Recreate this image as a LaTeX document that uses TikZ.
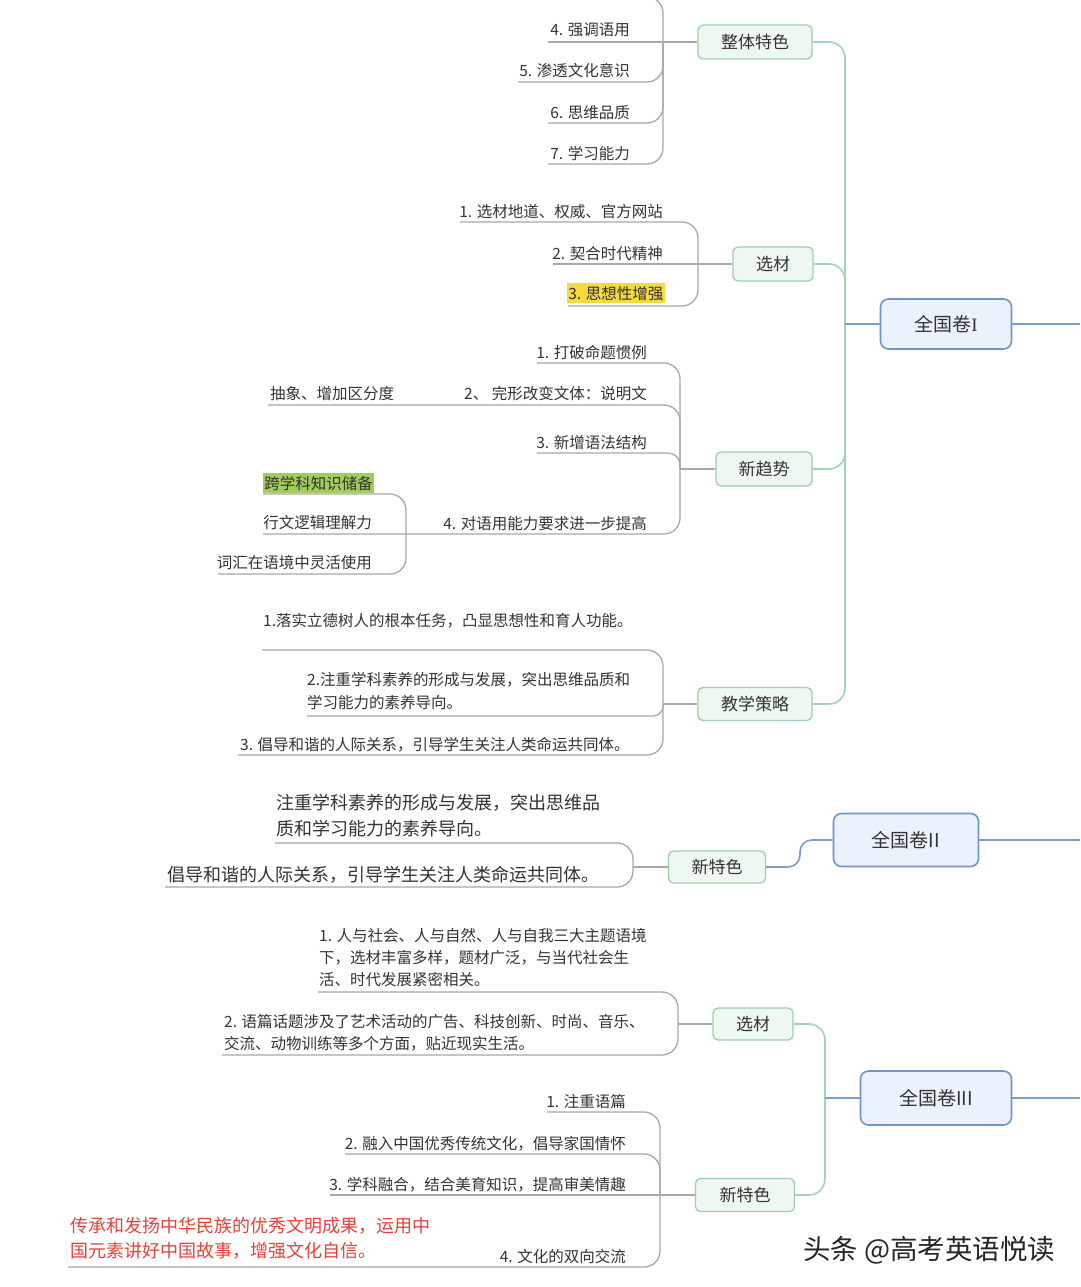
\documentclass[tikz,border=0pt]{standalone}
\usepackage{fontspec}
\setmainfont{Noto Sans CJK SC}
\newfontfamily\serifI{Liberation Serif}
\definecolor{txt}{HTML}{333333}
\definecolor{lgray}{HTML}{A8A8A8}
\definecolor{lgreen}{HTML}{A3D4B3}
\definecolor{lblue}{HTML}{7C9DC8}
\definecolor{boxg}{HTML}{9CCFAE}
\definecolor{fillg}{HTML}{EEF8F1}
\definecolor{boxb}{HTML}{6F96C6}
\definecolor{fillb}{HTML}{EAF2FB}
\definecolor{hly}{HTML}{F6DA3C}
\definecolor{hlg}{HTML}{A2CC5E}
\definecolor{redt}{HTML}{E4423B}
\begin{document}
\begin{tikzpicture}[x=1pt,y=-1pt,
  gl/.style={draw=lgray, line width=1.3pt, rounded corners=16pt},
  gr/.style={draw=lgreen, line width=1.6pt, rounded corners=16pt},
  bl/.style={draw=lblue, line width=1.6pt, rounded corners=12pt},
  gbox/.style={draw=boxg, fill=fillg, line width=1.3pt, rounded corners=5pt,
    font=\fontsize{17}{20}\selectfont, text=txt, inner sep=0pt},
  bbox/.style={draw=boxb, fill=fillb, line width=1.6pt, rounded corners=8pt,
    font=\fontsize{19}{22}\selectfont, text=txt, inner sep=0pt},
  itm/.style={font=\fontsize{15.5}{22}\selectfont, text=txt, inner sep=0pt, align=left},
  big/.style={font=\fontsize{18}{26}\selectfont, text=txt, inner sep=0pt, align=left},
]
\useasboundingbox (0,0) rectangle (1080,1287);
\clip (0,0) rectangle (1080,1287);
\fill[white] (0,0) rectangle (1080,1287);

% ---------------- 全国卷I ----------------
\node[bbox, minimum width=131pt, minimum height=50pt] (q1) at (946,324) {全国卷{\serifI I}};
\node[gbox, minimum width=114pt, minimum height=34pt] (zt) at (755,42) {整体特色};
\node[gbox, minimum width=80pt, minimum height=34pt] (xc1) at (773,264) {选材};
\node[gbox, minimum width=96pt, minimum height=34pt] (qs) at (764,469) {新趋势};
\node[gbox, minimum width=114pt, minimum height=33pt] (jx) at (755,704) {教学策略};
\coordinate (t1) at (845,324);
\draw[gr] (zt.east) -| (t1);
\draw[gr] (xc1.east) -| (t1);
\draw[gr] (qs.east) -| (t1);
\draw[gr] (jx.east) -| (t1);
\draw[bl] (t1) -- (q1.west);
\draw[bl] (q1.east) -- (1080,324);

% 整体特色 items
\coordinate (ja) at (663,42);
\node[itm, anchor=base east] (a4) at (630,36) {4. 强调语用};
\node[itm, anchor=base east] (a5) at (630,77) {5. 渗透文化意识};
\node[itm, anchor=base east] (a6) at (630,118) {6. 思维品质};
\node[itm, anchor=base east] (a7) at (630,159) {7. 学习能力};
\draw[gl] (548,-3) -| (ja);
\draw[gl] (548,42) -- (zt.west);
\draw[gl] (518,82) -| (ja);
\draw[gl] (548,123) -| (ja);
\draw[gl] (548,164) -| (ja);

% 选材 items
\coordinate (jb) at (698,264);
\node[itm, anchor=base east] (b1) at (663,217) {1. 选材地道、权威、官方网站};
\node[itm, anchor=base east] (b2) at (663,259) {2. 契合时代精神};
\node[itm, anchor=base east, fill=hly, inner xsep=1.5pt, inner ysep=3pt] (b3) at (665,299) {3. 思想性增强};
\draw[gl] (460,222) -| (jb);
\draw[gl] (553,264) -- (xc1.west);
\draw[gl] (568,306) -| (jb);

% 新趋势 items
\coordinate (jc) at (680,469);
\coordinate (jc4) at (406,534);
\node[itm, anchor=base east] (c1) at (647,358) {1. 打破命题惯例};
\node[itm, anchor=base east] (c2) at (647,399) {2、\ 完形改变文体：说明文};
\node[itm, anchor=base west] (c2a) at (270,399) {抽象、增加区分度};
\node[itm, anchor=base east] (c3) at (647,448) {3. 新增语法结构};
\node[itm, anchor=base east] (c4) at (647,529) {4. 对语用能力要求进一步提高};
\node[itm, anchor=base east, fill=hlg, inner xsep=1pt, inner ysep=3pt] (c4a) at (374,489) {跨学科知识储备};
\node[itm, anchor=base east] (c4b) at (372,528) {行文逻辑理解力};
\node[itm, anchor=base east] (c4c) at (372,568) {词汇在语境中灵活使用};
\draw[gl] (537,363) -| (jc);
\draw[gl] (268,405) -| (jc);
\draw[gl, rounded corners=12pt] (537,453) -| (jc);
\draw[gl] (263,534) -| (jc);
\draw[gl] (jc) -- (qs.west);
\draw[gl] (263,494) -| (jc4);
\draw[gl] (218,574) -| (jc4);

% 教学策略 items
\coordinate (jd) at (663,704);
\node[itm, anchor=base west] (d1) at (263,626) {1.落实立德树人的根本任务，凸显思想性和育人功能。};
\node[itm, anchor=north west, font=\fontsize{15.5}{23}\selectfont] (d2) at (307,672) {2.注重学科素养的形成与发展，突出思维品质和\\学习能力的素养导向。};
\node[itm, anchor=base west] (d3) at (240,750) {3. 倡导和谐的人际关系，引导学生关注人类命运共同体。};
\draw[gl] (262,650) -| (jd);
\draw[gl, rounded corners=10pt] (307,716) -| (jd);
\draw[gl] (238,755) -| (jd);
\draw[gl] (jd) -- (jx.west);

% ---------------- 全国卷II ----------------
\node[bbox, minimum width=145pt, minimum height=53pt] (q2) at (906,840) {全国卷II};
\node[gbox, minimum width=97pt, minimum height=32pt] (xt2) at (717,867) {新特色};
\draw[bl] (xt2.east) -| (800,840) -- (q2.west);
\draw[bl] (q2.east) -- (1080,840);
\coordinate (je) at (633,867);
\node[big, anchor=north west] (e1) at (276,794) {注重学科素养的形成与发展，突出思维品\\质和学习能力的素养导向。};
\node[big, anchor=base west] (e2) at (167,881) {倡导和谐的人际关系，引导学生关注人类命运共同体。};
\draw[gl] (275,843) -| (je);
\draw[gl] (165,887) -| (je);
\draw[gl] (je) -- (xt2.west);

% ---------------- 全国卷III ----------------
\node[bbox, minimum width=151pt, minimum height=54pt] (q3) at (936,1098) {全国卷III};
\node[gbox, minimum width=80pt, minimum height=32pt] (xc3) at (753,1024) {选材};
\node[gbox, minimum width=99pt, minimum height=33pt] (xt3) at (745,1195) {新特色};
\coordinate (t3) at (825,1098);
\draw[gr] (xc3.east) -| (t3);
\draw[gr] (xt3.east) -| (t3);
\draw[bl] (t3) -- (q3.west);
\draw[bl] (q3.east) -- (1080,1098);

\coordinate (jf) at (678,1024);
\node[itm, anchor=north west] (f1) at (319,928) {1. 人与社会、人与自然、人与自我三大主题语境\\下，选材丰富多样，题材广泛，与当代社会生\\活、时代发展紧密相关。};
\node[itm, anchor=north west] (f2) at (224,1014) {2. 语篇话题涉及了艺术活动的广告、科技创新、时尚、音乐、\\交流、动物训练等多个方面，贴近现实生活。};
\draw[gl] (318,992) -| (jf);
\draw[gl] (222,1055) -| (jf);
\draw[gl] (jf) -- (xc3.west);

\coordinate (jg) at (660,1195);
\node[itm, anchor=base east] (g1) at (626,1107) {1. 注重语篇};
\node[itm, anchor=base east] (g2) at (626,1149) {2. 融入中国优秀传统文化，倡导家国情怀};
\node[itm, anchor=base east] (g3) at (626,1190) {3. 学科融合，结合美育知识，提高审美情趣};
\node[itm, anchor=base east] (g4) at (626,1262) {4. 文化的双向交流};
\node[big, anchor=north west, text=redt, font=\fontsize{18}{25}\selectfont] (g4a) at (70,1217) {传承和发扬中华民族的优秀文明成果，运用中\\国元素讲好中国故事，增强文化自信。};
\draw[gl] (547,1112) -| (jg);
\draw[gl] (345,1154) -| (jg);
\draw[gl] (330,1195) -- (xt3.west);
\draw[gl] (68,1267) -| (jg);

% watermark
\node[anchor=base west, inner sep=0pt, text=black!85, font=\fontsize{27.5}{30}\selectfont] (wm) at (803,1259) {头条 @高考英语悦读};
\end{tikzpicture}
\end{document}
